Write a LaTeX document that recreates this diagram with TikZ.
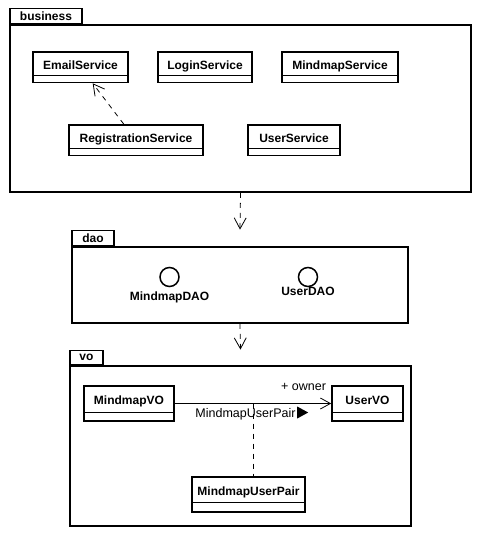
\documentclass[tikz,border=0pt]{standalone}
\usepackage{fontspec}
\setmainfont{Liberation Sans}
\usetikzlibrary{arrows.meta}

\tikzset{
  umlclass/.style={draw, line width=1.6pt, font=\fontsize{12}{14}\selectfont\bfseries,
    inner xsep=0pt, inner ysep=0pt, text height=17pt, text depth=13.5pt,
    path picture={\draw[line width=0.9pt] ([yshift=#1]path picture bounding box.south west)
      -- ([yshift=#1]path picture bounding box.south east);}},
  umlclass/.default=7.5pt,
  pkgbody/.style={draw, line width=1.6pt, inner sep=0pt},
  pkgtab/.style={draw, line width=1.6pt, inner sep=0pt, anchor=south west,
    font=\fontsize{12}{14}\selectfont\bfseries, minimum height=15pt},
  iface/.style={draw, circle, line width=1.5pt, minimum size=19pt, inner sep=0pt},
  ifacelabel/.style={font=\fontsize{12}{14}\selectfont\bfseries, inner sep=0pt},
  rolelabel/.style={font=\fontsize{12.5}{14}\selectfont, inner sep=0pt},
  depend/.style={line width=0.8pt, dash pattern=on 5pt off 5pt,
    -{Straight Barb[length=11pt,width=12pt,line width=0.8pt]}},
  assoc/.style={line width=0.8pt, -{Straight Barb[length=10pt,width=11pt,line width=0.8pt]}},
  assoclink/.style={line width=0.8pt, dash pattern=on 5pt off 5pt},
}

\begin{document}
\begin{tikzpicture}[x=1pt,y=-1pt]
  \useasboundingbox (0,0) rectangle (481,536);

  % package business
  \node[pkgbody, minimum width=461pt, minimum height=167pt] (business) at (240.5,108.5) {};
  \node[pkgtab, minimum width=72pt] (business-tab) at (business.north west) {business};

  \node[umlclass, minimum width=95pt] (emailservice) at (80.5,67.25) {EmailService};
  \node[umlclass, minimum width=94pt] (loginservice) at (205,67.25) {LoginService};
  \node[umlclass, minimum width=116pt] (mindmapservice) at (340,67.25) {MindmapService};
  \node[umlclass, minimum width=134pt] (registrationservice) at (136,140.25) {RegistrationService};
  \node[umlclass, minimum width=92pt] (userservice) at (294,140.25) {UserService};

  \draw[depend] (registrationservice) -- (emailservice);

  % package dao
  \node[pkgbody, minimum width=336pt, minimum height=76pt] (dao) at (240,285) {};
  \node[pkgtab, minimum width=42pt] (dao-tab) at (dao.north west) {dao};

  \node[iface] (mindmapdao) at (169.5,277) {};
  \node[ifacelabel] (mindmapdao-label) at (169.5,297.5) {MindmapDAO};
  \node[iface] (userdao) at (308,277) {};
  \node[ifacelabel] (userdao-label) at (308,291) {UserDAO};

  \draw[depend] (business.south) -- (dao-tab.north -| dao.north);

  % package vo
  \node[pkgbody, minimum width=341pt, minimum height=160pt] (vo) at (240.5,446) {};
  \node[pkgtab, minimum width=33pt, minimum height=14pt] (vo-tab) at (vo.north west) {vo};

  \node[umlclass=9pt, minimum width=90pt, text height=18.5pt, text depth=16.5pt] (mindmapvo) at (129,403.5) {MindmapVO};
  \node[umlclass=9pt, minimum width=71pt, text height=18.5pt, text depth=16.5pt] (uservo) at (367.5,403.5) {UserVO};
  \node[umlclass=10pt, minimum width=113pt, text height=18.5pt, text depth=16.5pt] (mindmapuserpair) at (248.5,494.5) {MindmapUserPair};

  \draw[depend] (dao.south) -- (vo-tab.north -| vo.north);

  % association with its class
  \draw[assoc] (mindmapvo) -- coordinate[midway] (pairlink) (uservo);
  \draw[assoclink] (pairlink) -- (mindmapuserpair.north -| pairlink);
  \node[rolelabel, anchor=base east] (owner-role) at ([xshift=-5pt,yshift=13.5pt]uservo.west) {+ owner};
  \node[rolelabel, anchor=base east] (pair-name) at ([xshift=-35.5pt,yshift=-13.5pt]uservo.west) {MindmapUserPair};
  \fill ([xshift=1.5pt,yshift=4.5pt]pair-name.base east) -- ++(0,-6) -- ++(11,6) -- ++(-11,6) -- cycle;

\end{tikzpicture}
\end{document}
